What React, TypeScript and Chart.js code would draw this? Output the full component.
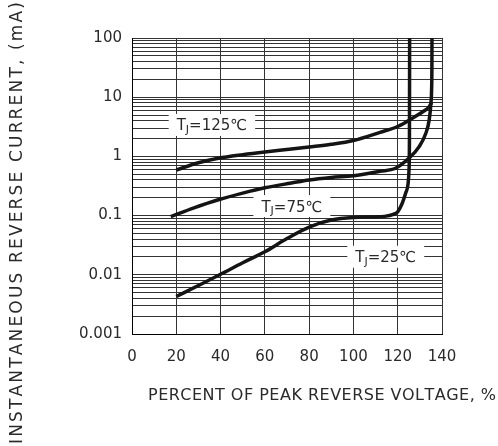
import React, { useEffect, useRef } from 'react';
import { Chart, registerables } from 'chart.js';

Chart.register(...registerables);

// ---- data ----
const percent125 = [20, 30, 39, 50, 60, 72, 80, 90, 100, 112, 120, 127, 132, 134.2, 135.3];
const current125 = [0.59, 0.78, 0.93, 1.07, 1.19, 1.33, 1.44, 1.6, 1.86, 2.55, 3.2, 4.5, 5.9, 6.9, 8.2];

const percent75 = [17.5, 28, 39, 50, 60, 72, 80, 90, 100, 112, 119, 125, 129.7, 132.7, 134.2, 135, 135.3, 135.45, 135.5];
const current75 = [0.096, 0.135, 0.185, 0.24, 0.295, 0.355, 0.4, 0.44, 0.47, 0.56, 0.63, 0.93, 1.46, 2.46, 4.1, 7.9, 13.3, 40, 300];

const percent25 = [20, 30, 40, 50, 60, 70, 80, 90, 100, 110, 114, 118, 120, 122, 123.6, 124.7, 125.1, 125.3, 125.4];
const current25 = [0.0043, 0.0066, 0.0102, 0.016, 0.0245, 0.041, 0.064, 0.084, 0.093, 0.095, 0.097, 0.105, 0.116, 0.16, 0.24, 0.35, 0.59, 2, 300];

const xTickValues = [0, 20, 40, 60, 80, 100, 120, 140];
const yMajorTicks = [0.001, 0.01, 0.1, 1, 10, 100];
const yTickLabels = ['0.001', '0.01', '0.1', '1', '10', '100'];
const yMinorMultipliers = [2, 3, 4, 5, 6, 7, 8, 9];

const curveTemps = ['125', '75', '25'];
const labelAnchorX = [36.1, 72.2, 114.6];
const labelAnchorY = [3.4, 0.145, 0.0202];

const xTitle = 'PERCENT OF PEAK REVERSE VOLTAGE, %';
const yTitle = 'INSTANTANEOUS REVERSE CURRENT, (mA)';

const FONT = '"DejaVu Sans", "Liberation Sans", Arial, sans-serif';
const TEXT_COLOR = '#2a2a2a';

function drawSpacedText(ctx: CanvasRenderingContext2D, text: string, x: number, y: number, targetLen: number) {
  const chars = Array.from(text);
  const widths = chars.map((c) => ctx.measureText(c).width);
  const natural = widths.reduce((a, b) => a + b, 0);
  const extra = chars.length > 1 ? (targetLen - natural) / (chars.length - 1) : 0;
  let cx = x;
  chars.forEach((c, i) => {
    ctx.fillText(c, cx, y);
    cx += widths[i] + extra;
  });
}

const annotationPlugin = {
  id: 'annotations',
  afterDraw(chart: any) {
    const ctx: CanvasRenderingContext2D = chart.ctx;
    const xs = chart.scales.x;
    const ys = chart.scales.y;
    ctx.save();
    // curve labels
    curveTemps.forEach((t, i) => {
      const cx = xs.getPixelForValue(labelAnchorX[i]);
      const cy = ys.getPixelForValue(labelAnchorY[i]);
      const big = '15px ' + FONT;
      const small = '11px ' + FONT;
      ctx.font = big;
      const wT = ctx.measureText('T').width;
      const rest = '=' + t + '\u2103';
      const wRest = ctx.measureText(rest).width;
      ctx.font = small;
      const wJ = ctx.measureText('J').width;
      const w = wT + wJ + wRest;
      const padX = 8;
      ctx.fillStyle = '#ffffff';
      ctx.fillRect(cx - w / 2 - padX, cy - 11, w + padX * 2, 22);
      ctx.fillStyle = TEXT_COLOR;
      ctx.textAlign = 'left';
      ctx.textBaseline = 'alphabetic';
      let x0 = cx - w / 2;
      const base = cy + 5.5;
      ctx.font = big;
      ctx.fillText('T', x0, base);
      x0 += wT;
      ctx.font = small;
      ctx.fillText('J', x0, base + 2.5);
      x0 += wJ;
      ctx.font = big;
      ctx.fillText(rest, x0, base);
    });
    // x title
    ctx.fillStyle = TEXT_COLOR;
    ctx.font = '16px ' + FONT;
    ctx.textAlign = 'left';
    ctx.textBaseline = 'alphabetic';
    drawSpacedText(ctx, xTitle, 148, 400, 348);
    // y title
    ctx.save();
    ctx.translate(22, 444);
    ctx.rotate(-Math.PI / 2);
    ctx.font = '17px ' + FONT;
    drawSpacedText(ctx, yTitle, 0, 0, 442);
    ctx.restore();
    ctx.restore();
  },
};

export default function App() {
  const canvasRef = useRef<HTMLCanvasElement | null>(null);

  useEffect(() => {
    if (!canvasRef.current) return;
    const mk = (xs: number[], ys: number[]) => xs.map((x, i) => ({ x, y: ys[i] }));
    const ds = (data: any) => ({
      data,
      borderColor: '#141414',
      borderWidth: 3.5,
      pointRadius: 0,
      fill: false,
      cubicInterpolationMode: 'monotone' as const,
    });
    const chart = new Chart(canvasRef.current, {
      type: 'line',
      data: {
        datasets: [
          ds(mk(percent125, current125)),
          ds(mk(percent75, current75)),
          ds(mk(percent25, current25)),
        ],
      },
      options: {
        responsive: false,
        animation: false,
        devicePixelRatio: 1,
        layout: { padding: { left: 0, top: 38, right: 56, bottom: 0 } },
        plugins: {
          legend: { display: false },
          tooltip: { enabled: false },
          title: { display: false },
        },
        scales: {
          x: {
            type: 'linear',
            min: 0,
            max: 140,
            afterBuildTicks: (s: any) => {
              s.ticks = xTickValues.map((v) => ({ value: v }));
            },
            afterFit: (s: any) => {
              s.height = 112;
            },
            grid: { color: '#333', lineWidth: 1, drawTicks: false },
            border: { display: true, color: '#000', width: 1 },
            ticks: {
              padding: 14,
              color: TEXT_COLOR,
              font: { family: FONT, size: 15 },
              maxRotation: 0,
              autoSkip: false,
            },
          },
          y: {
            type: 'logarithmic',
            min: 0.001,
            max: 100,
            afterBuildTicks: (s: any) => {
              const vals: number[] = [];
              yMajorTicks.forEach((m, i) => {
                vals.push(m);
                if (i < yMajorTicks.length - 1) {
                  yMinorMultipliers.forEach((k) => vals.push(parseFloat((m * k).toPrecision(3))));
                }
              });
              s.ticks = vals.map((v) => ({ value: v }));
            },
            afterFit: (s: any) => {
              s.width = 132;
            },
            grid: { color: '#333', lineWidth: 1, drawTicks: false },
            border: { display: true, color: '#000', width: 1 },
            ticks: {
              padding: 10,
              color: TEXT_COLOR,
              font: { family: FONT, size: 15 },
              autoSkip: false,
              callback: (value: any) => {
                const v = Number(value);
                const i = yMajorTicks.findIndex((m) => Math.abs(m - v) / m < 1e-6);
                return i >= 0 ? yTickLabels[i] : '';
              },
            },
          },
        },
      },
      plugins: [annotationPlugin],
    });
    return () => chart.destroy();
  }, []);

  return (
    <div style={{ position: 'fixed', left: 0, top: 0, width: 498, height: 446, background: '#fff' }}>
      <canvas ref={canvasRef} width={498} height={446} style={{ display: 'block' }} />
    </div>
  );
}
